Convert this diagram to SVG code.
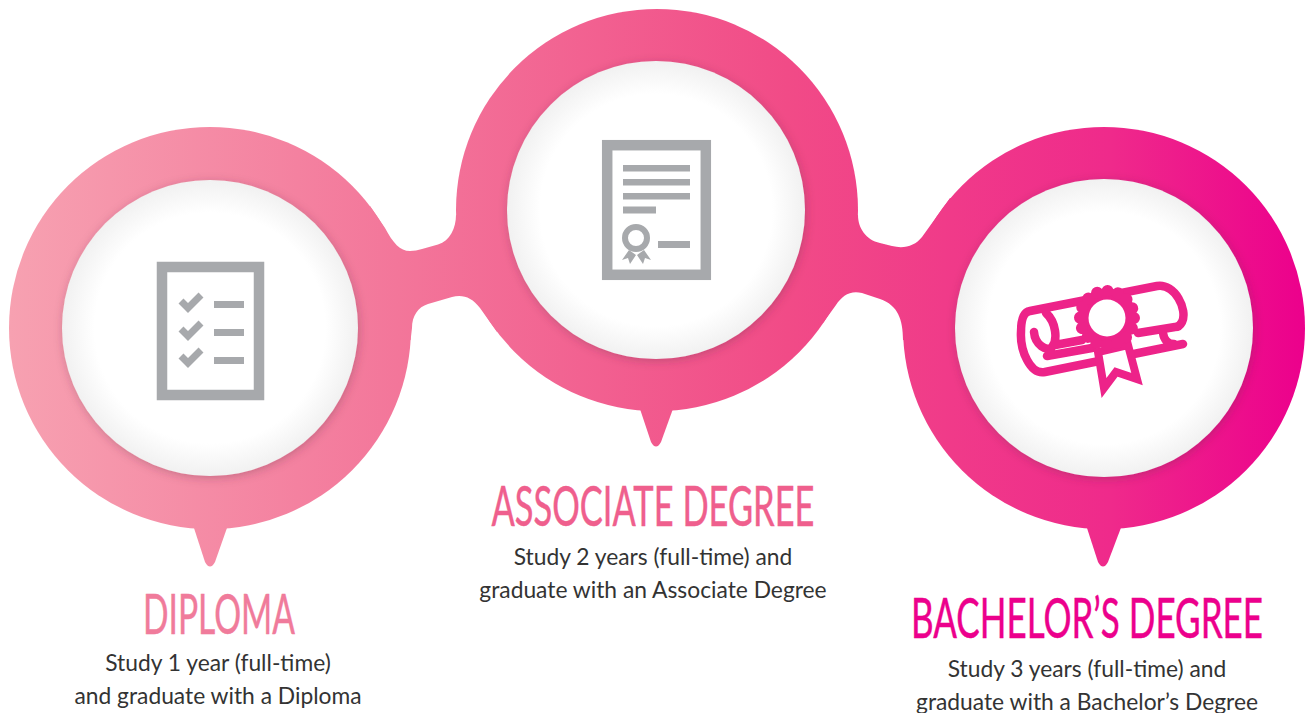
<svg xmlns="http://www.w3.org/2000/svg" width="1307" height="713" viewBox="0 0 1307 713">
<style>
.blob{fill:url(#band)}
.inner{fill:url(#disc);filter:url(#soft)}
.head{font-family:"Lato","Liberation Sans",sans-serif;font-size:56px;font-weight:400;text-anchor:middle;stroke-width:.5px}
.body{font-family:"Lato","Open Sans",sans-serif;font-size:22.800px;fill:#333;text-anchor:middle}
.g{fill:#a7a9ac}
.gl{fill:none;stroke:#a7a9ac}
.sc{fill:none;stroke:#ed2389;stroke-width:8.500;stroke-linecap:round;stroke-linejoin:round}
</style>
<defs>
<linearGradient id="band" gradientUnits="userSpaceOnUse" x1="9" y1="0" x2="1305" y2="0">
<stop offset="0" stop-color="#f7a1b1"/><stop offset=".3" stop-color="#f3769a"/><stop offset=".6" stop-color="#f14b87"/><stop offset=".85" stop-color="#ef2a8b"/><stop offset="1" stop-color="#ec008c"/>
</linearGradient>
<radialGradient id="disc"><stop offset=".78" stop-color="#fff"/><stop offset="1" stop-color="#f1f1f1"/></radialGradient>
<filter id="soft" x="-20%" y="-20%" width="140%" height="140%"><feDropShadow dx="1" dy="2" stdDeviation="5" flood-color="#5a2a40" flood-opacity=".3"/></filter>
</defs>
<g id="connectors">
<path class="blob" d="M370,206L385,228C393,243 400,251 410,251C414,251 418,250 422,249L438,244.500C450,241 456,228 456,215L560,250L497,332L480,308C472,297 462,294 452,297L428,304C418,307 412,316 412,328L410.600,340L300,340L300,250Z"/>
<path class="blob" d="M858,215C858,228 866,240 880,243L892,246C904,249 915,246 922,237L950,198L1050,250L1050,340L903,340C903,320 898,305 880,299L862,293C850,290 842,296 836,305L823,323L760,250Z"/>
</g>
<g id="node-diploma">
<circle class="blob" cx="210" cy="328" r="201"/>
<path class="blob" d="M193,525L205,562Q210,571 215,562L228,525Z"/>
<circle class="inner" cx="210" cy="328" r="148"/>
<g id="icon-checklist">
<rect x="162" y="267" width="97" height="128" fill="#fff" stroke="#a7a9ac" stroke-width="10.500"/>
<rect class="g" x="214" y="301" width="30" height="7"/><rect class="g" x="214" y="329" width="30" height="7"/><rect class="g" x="214" y="357" width="30" height="7"/>
<path class="gl" stroke-width="7" d="M181,301L188,308L201,295M181,329L188,336L201,323M181,356L188,363L201,350"/>
</g>
<text class="head" x="219" y="634" fill="#f07b9b" stroke="#f07b9b" textLength="152" lengthAdjust="spacingAndGlyphs">DIPLOMA</text>
<text class="body" x="218" y="671">Study 1 year (full-time)</text>
<text class="body" x="218" y="704">and graduate with a Diploma</text>
</g>
<g id="node-associate">
<circle class="blob" cx="657" cy="210" r="201"/>
<path class="blob" d="M639,406L651,442Q656,451 661,442L674,406Z"/>
<circle class="inner" cx="656" cy="210" r="149"/>
<g id="icon-certificate">
<rect x="607.200" y="145.200" width="98.600" height="129.600" fill="#fff" stroke="#a7a9ac" stroke-width="10.500"/>
<rect class="g" x="623" y="165" width="67" height="6.500"/><rect class="g" x="623" y="179" width="67" height="6.500"/><rect class="g" x="623" y="193" width="67" height="6.500"/><rect class="g" x="623" y="206.500" width="33" height="7"/><rect class="g" x="658" y="241" width="32" height="7"/>
<circle class="gl" cx="636" cy="238" r="11" stroke-width="6"/>
<path class="g" d="M629,250L622,260L628,258L630,264L636,255ZM644,250L651,260L645,258L643,264L637,255Z"/>
</g>
<text class="head" x="653" y="526" fill="#ef5f8d" stroke="#ef5f8d" textLength="323" lengthAdjust="spacingAndGlyphs">ASSOCIATE DEGREE</text>
<text class="body" x="653" y="565">Study 2 years (full-time) and</text>
<text class="body" x="653" y="598">graduate with an Associate Degree</text>
</g>
<g id="node-bachelor">
<circle class="blob" cx="1104" cy="328" r="201"/>
<path class="blob" d="M1086,525L1098,562Q1103,571 1108,562L1122,525Z"/>
<circle class="inner" cx="1104" cy="328" r="149"/>
<g id="icon-scroll">
<path class="sc" d="M1030,311L1157,286C1175,283 1188,310 1182,322C1180,326 1178,327 1175,327L1138,333M1183,344L1045,372C1030,375 1020,350 1021,332C1021,320 1023,312 1030,311M1034,332C1035,345 1047,352 1052,347C1058,340 1056,322 1046,313M1055,345L1082,340M1047,356L1092,348M1163,333C1164,340 1168,344 1174,344"/>
<path d="M1098,352L1104,388L1116,372L1137,379L1128,345Z" fill="#fff" stroke="#ed2389" stroke-width="8" stroke-linejoin="miter"/>
<circle cx="1107" cy="318" r="27" fill="#ed2389" stroke="#ed2389" stroke-width="12" stroke-linecap="round" stroke-dasharray="0.100 10.503"/>
<circle cx="1107" cy="318" r="18.500" fill="#fff"/>
</g>
<text class="head" x="1087" y="638" fill="#ec008c" stroke="#ec008c" textLength="352" lengthAdjust="spacingAndGlyphs">BACHELOR’S DEGREE</text>
<text class="body" x="1087" y="677">Study 3 years (full-time) and</text>
<text class="body" x="1087" y="710">graduate with a Bachelor’s Degree</text>
</g>
</svg>
